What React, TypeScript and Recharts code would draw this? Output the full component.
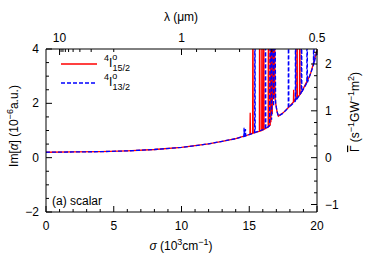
import React from 'react';
import { LineChart, Line, XAxis, YAxis } from 'recharts';

// 4I°15/2 (red, solid)
const sigma15 = [0, 2, 4, 6, 8, 10, 11, 12, 13, 14, 14.8,
  15.05, 15.07, 15.09, 15.25, 15.27, 15.29, 15.75, 15.77, 15.79, 15.92, 15.94, 15.96,
  16.05, 16.07, 16.09, 16.3, 16.4, 16.42, 16.44, 16.55, 16.57, 16.6, 16.65, 16.7, 16.75,
  16.8, 16.85, 16.9, 16.95, 17.05, 17.15, 17.5, 18.0, 18.26, 18.28, 18.3,
  18.51, 18.53, 18.55, 18.71, 18.73, 18.75, 19.0, 19.5, 20];
const im15 = [0.2, 0.21, 0.22, 0.25, 0.3, 0.38, 0.44, 0.51, 0.6, 0.7, 0.82,
  0.86, 1.65, 0.87, 0.9, 8, 0.9, 0.97, 8, 0.98, 1.0, 8, 1.01,
  1.03, 8, 1.04, 1.1, 1.13, 8, 1.15, 1.2, 8, 1.3, 8, 1.6, 8,
  2.2, 8, 2.2, 2.0, 1.7, 1.53, 1.65, 1.9, 2.05, 2.5, 2.07,
  2.2, 8, 2.22, 2.3, 8, 2.32, 2.55, 3.05, 3.95];

// 4I°13/2 (blue, dashed)
const sigma13 = [0, 2, 4, 6, 8, 10, 11, 12, 13, 14,
  14.6, 14.62, 14.64, 14.7, 14.72, 14.74, 15.4, 15.42, 15.44, 16.18, 16.2, 16.22,
  16.5, 16.6, 16.65, 16.7, 16.8, 16.85, 16.95, 17.05, 17.15, 17.45,
  17.88, 17.9, 17.92, 18.4, 18.42, 18.44, 18.84, 18.86, 18.88,
  19.25, 19.27, 19.29, 19.74, 19.76, 19.78, 20];
const im13 = [0.2, 0.21, 0.22, 0.25, 0.3, 0.38, 0.44, 0.51, 0.6, 0.7,
  0.78, 1.1, 0.78, 0.79, 1.05, 0.8, 0.92, 8, 0.93, 1.06, 8, 1.07,
  1.18, 8, 1.4, 8, 1.9, 8, 2.0, 1.7, 1.53, 1.62,
  1.83, 8, 1.85, 2.08, 8, 2.1, 2.4, 8, 2.42,
  2.75, 8, 2.77, 3.4, 8, 3.45, 3.95];

const sigmaTicks = [0, 1, 2, 3, 4, 5, 6, 7, 8, 9, 10, 11, 12, 13, 14, 15, 16, 17, 18, 19, 20];
const imTicks = [-2, -1.5, -1, -0.5, 0, 0.5, 1, 1.5, 2, 2.5, 3, 3.5, 4];
const gammaTicks = [-1, -0.75, -0.5, -0.25, 0, 0.25, 0.5, 0.75, 1, 1.25, 1.5, 1.75, 2, 2.25];
const lambdaTicks = [10, 9, 8, 7, 6, 5, 4, 3, 2, 1, 0.9, 0.8, 0.7, 0.6, 0.5];
const lambdaLabels = [10, 1, 0.5];

const data15 = sigma15.map((s, i) => ({ s, v: im15[i] }));
const data13 = sigma13.map((s, i) => ({ s, v: im13[i] }));
const topTicks = lambdaTicks.map((l) => 10 / l);

const FONT = '"Liberation Sans", Arial, sans-serif';
const fmt = (v: number) => (v < 0 ? '\u2212' + Math.abs(v) : String(v));

const BottomTick = (p: any) => {
  const { x, y, payload } = p;
  const major = payload.value % 5 === 0;
  return (
    <g>
      <line x1={x} x2={x} y1={y} y2={y - (major ? 6 : 3)} stroke="#000" />
      {major && (
        <text x={x} y={y + 18} textAnchor="middle" fontSize={12} fontFamily={FONT} fill="#000">
          {fmt(payload.value)}
        </text>
      )}
    </g>
  );
};

const TopTick = (p: any) => {
  const { x, y, payload } = p;
  const lam = Math.round((10 / payload.value) * 100) / 100;
  const major = lambdaLabels.includes(lam);
  return (
    <g>
      <line x1={x} x2={x} y1={y} y2={y + (major ? 6 : 3)} stroke="#000" />
      {major && (
        <text x={x} y={y - 7} textAnchor="middle" fontSize={12} fontFamily={FONT} fill="#000">
          {lam}
        </text>
      )}
    </g>
  );
};

const LeftTick = (p: any) => {
  const { x, y, payload } = p;
  const major = payload.value % 2 === 0;
  return (
    <g>
      <line x1={x} x2={x + (major ? 6 : 3)} y1={y} y2={y} stroke="#000" />
      {major && (
        <text x={x - 7} y={y + 4} textAnchor="end" fontSize={12} fontFamily={FONT} fill="#000">
          {fmt(payload.value)}
        </text>
      )}
    </g>
  );
};

const RightTick = (p: any) => {
  const { x, y, payload } = p;
  const major = Number.isInteger(payload.value);
  return (
    <g>
      <line x1={x} x2={x - (major ? 6 : 3)} y1={y} y2={y} stroke="#000" />
      {major && (
        <text x={x + 8} y={y + 4} textAnchor="start" fontSize={12} fontFamily={FONT} fill="#000">
          {fmt(payload.value)}
        </text>
      )}
    </g>
  );
};

export default function App() {
  return (
    <div style={{ position: 'fixed', left: 0, top: 0, background: '#fff' }}>
      <LineChart width={382} height={266} margin={{ top: 0, right: 0, bottom: 0, left: 0 }}>
        <XAxis
          xAxisId="b"
          dataKey="s"
          type="number"
          domain={[0, 20]}
          ticks={sigmaTicks}
          interval={0}
          height={54}
          tickSize={0}
          tickMargin={0}
          tickLine={false}
          tick={<BottomTick />}
          stroke="#000"
        />
        <XAxis
          xAxisId="t"
          dataKey="s"
          orientation="top"
          type="number"
          domain={[0, 20]}
          ticks={topTicks}
          interval={0}
          height={49}
          tickSize={0}
          tickMargin={0}
          tickLine={false}
          tick={<TopTick />}
          stroke="#000"
        />
        <YAxis
          yAxisId="l"
          type="number"
          domain={[-2, 4]}
          ticks={imTicks}
          interval={0}
          allowDataOverflow
          width={46}
          tickSize={0}
          tickMargin={0}
          tickLine={false}
          tick={<LeftTick />}
          stroke="#000"
        />
        <YAxis
          yAxisId="r"
          orientation="right"
          type="number"
          domain={[-1.16, 2.32]}
          ticks={gammaTicks}
          interval={0}
          allowDataOverflow
          width={65}
          tickSize={0}
          tickMargin={0}
          tickLine={false}
          tick={<RightTick />}
          stroke="#000"
        />
        {/* invisible series so the top (wavelength) axis gets its ticks */}
        <Line
          xAxisId="t"
          yAxisId="l"
          data={data15}
          dataKey="v"
          stroke="none"
          dot={false}
          legendType="none"
          isAnimationActive={false}
        />
        <Line
          xAxisId="b"
          yAxisId="l"
          data={data15}
          dataKey="v"
          type="linear"
          stroke="#ff0000"
          strokeWidth={1.3}
          dot={false}
          isAnimationActive={false}
        />
        <Line
          xAxisId="b"
          yAxisId="l"
          data={data13}
          dataKey="v"
          type="linear"
          stroke="#0000ff"
          strokeWidth={1.3}
          strokeDasharray="4 2"
          dot={false}
          isAnimationActive={false}
        />
        {/* axis titles */}
        <text x={181} y={21} textAnchor="middle" fontSize={12} fontFamily={FONT}>
          {'\u03bb (\u03bcm)'}
        </text>
        <text x={181} y={250} textAnchor="middle" fontSize={12} fontFamily={FONT}>
          <tspan fontStyle="italic">{'\u03c3'}</tspan>
          <tspan>{' (10'}</tspan>
          <tspan dy={-5} fontSize={9}>3</tspan>
          <tspan dy={5}>cm</tspan>
          <tspan dy={-5} fontSize={9}>{'\u22121'}</tspan>
          <tspan dy={5}>)</tspan>
        </text>
        <text x={18} y={126} textAnchor="middle" fontSize={12} fontFamily={FONT} transform="rotate(-90 18 126)">
          <tspan>Im[</tspan>
          <tspan fontStyle="italic">{'\u03b1'}</tspan>
          <tspan>{'] (10'}</tspan>
          <tspan dy={-5} fontSize={9}>{'\u22126'}</tspan>
          <tspan dy={5}>a.u.)</tspan>
        </text>
        <text x={359} y={112} textAnchor="middle" fontSize={12} fontFamily={FONT} transform="rotate(-90 359 112)">
          <tspan style={{ textDecoration: 'overline' }}>{'\u0393'}</tspan>
          <tspan>{' (s'}</tspan>
          <tspan dy={-5} fontSize={9}>{'\u22121'}</tspan>
          <tspan dy={5}>GW</tspan>
          <tspan dy={-5} fontSize={9}>{'\u22121'}</tspan>
          <tspan dy={5}>m</tspan>
          <tspan dy={-5} fontSize={9}>2</tspan>
          <tspan dy={5}>)</tspan>
        </text>
        <text x={52} y={205} fontSize={12} fontFamily={FONT}>(a) scalar</text>
        {/* legend */}
        <line x1={61} x2={97} y1={64} y2={64} stroke="#ff0000" strokeWidth={1.3} />
        <text x={104} y={67} fontSize={12} fontFamily={FONT}>
          <tspan dy={-6} fontSize={9}>4</tspan>
          <tspan dy={6}>I</tspan>
          <tspan dy={-7} fontSize={9}>o</tspan>
          <tspan dx={-5} dy={11} fontSize={9}>15/2</tspan>
        </text>
        <line x1={61} x2={97} y1={83} y2={83} stroke="#0000ff" strokeWidth={1.3} strokeDasharray="4 2" />
        <text x={104} y={86} fontSize={12} fontFamily={FONT}>
          <tspan dy={-6} fontSize={9}>4</tspan>
          <tspan dy={6}>I</tspan>
          <tspan dy={-7} fontSize={9}>o</tspan>
          <tspan dx={-5} dy={11} fontSize={9}>13/2</tspan>
        </text>
      </LineChart>
    </div>
  );
}
